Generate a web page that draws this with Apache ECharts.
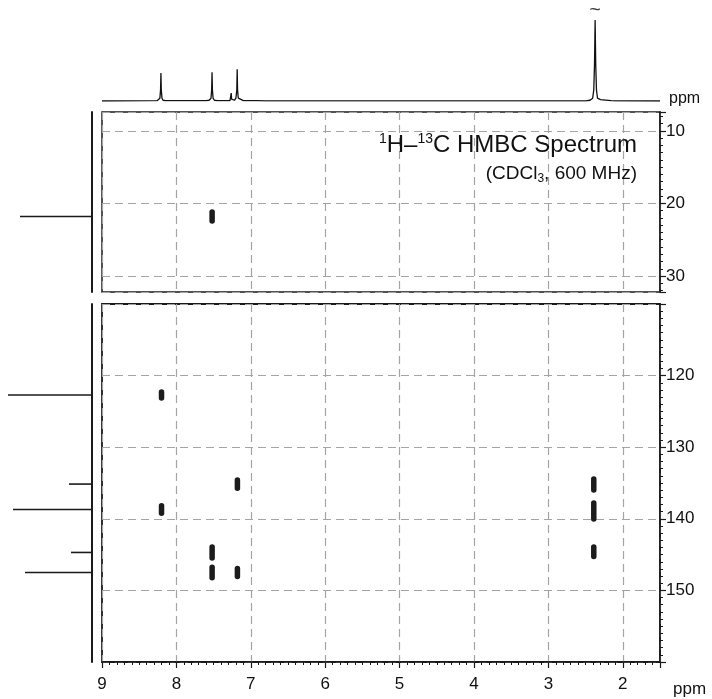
<!DOCTYPE html>
<html>
<head>
<meta charset="utf-8">
<script src="https://cdn.jsdelivr.net/npm/echarts@6/dist/echarts.min.js"></script>
<style>html,body{margin:0;padding:0;background:#fff;}#c{width:712px;height:699px;}</style>
</head>
<body>
<div id="c"></div>
<script>
// ---- data ----
// 1D 1H projection (ppm, intensity)
const spectrum = [
  [9.0,0],[8.60,0.2],[8.26,0.3],[8.235,0.8],[8.222,3],[8.213,12],[8.208,30],[8.203,12],[8.194,3],[8.18,0.8],[8.15,0.3],
  [7.60,0.3],[7.56,0.8],[7.535,3],[7.526,12],[7.521,31],[7.516,12],[7.507,3],[7.49,0.8],[7.45,0.4],
  [7.28,0.5],[7.268,2],[7.263,8.5],[7.258,2],[7.25,0.6],[7.22,0.8],[7.20,3],[7.188,12],[7.183,34],[7.178,12],[7.168,3],[7.15,1],[7.10,0.4],
  [6.92,0.3],[6.905,1.5],[6.895,0.3],[6.8,0.2],
  [2.50,0.2],[2.44,0.8],[2.405,3],[2.39,12],[2.38,40],[2.372,87],[2.364,40],[2.354,12],[2.34,3],[2.32,1.2],[2.30,1.5],[2.29,0.8],
  [2.16,0.4],[2.15,1.8],[2.14,0.4],[2.1,0.2],[1.5,0]
];
const truncMark = [[2.372, 97]];
// 2D cross peaks: 1H ppm, 13C ppm, vertical extent (ppm)
const peakH    = [7.52, 8.20, 8.20, 7.18, 7.52, 7.52, 7.18, 2.39, 2.39, 2.39];
const peakC    = [21.8, 122.7, 138.7, 135.15, 144.7, 147.5, 147.5, 135.2, 138.9, 144.6];
const peakSpan = [2.0, 1.6, 1.8, 1.9, 2.3, 2.2, 1.9, 2.3, 3.0, 2.1];
// 13C projection lines: ppm, intensity
const projC = [21.8, 122.7, 135.15, 138.7, 144.7, 147.5];
const projI = [72, 84, 23, 79, 21, 67];
// axes
const xRange = [1.5, 9];
const topCRange = [7.4, 32.2];
const botCRange = [110, 160];

// ---- build ----
const topPeaks = [], botPeaks = [];
peakH.forEach((h, i) => {
  const d = [h, peakC[i], peakSpan[i]];
  (peakC[i] < 60 ? topPeaks : botPeaks).push(d);
});
const topProj = [], botProj = [];
projC.forEach((c, i) => {
  (c < 60 ? topProj : botProj).push([projI[i], c]);
});

const FONT = 'Liberation Sans';
const dash = {color: '#a4a4a4', width: 1.2, type: [8, 5]};
const G = {left: 102, right: 52};

const peakRender = function (params, api) {
  const c = api.coord([api.value(0), api.value(1)]);
  const h = api.size([0, api.value(2)])[1];
  const w = 5.5;
  return {type: 'rect', shape: {x: c[0] - w / 2, y: c[1] - h / 2, width: w, height: h, r: w / 2},
          style: {fill: '#1c1c1c'}};
};
const projRender = function (params, api) {
  const p0 = api.coord([0, api.value(1)]);
  const p1 = api.coord([api.value(0), api.value(1)]);
  return {type: 'line', shape: {x1: p0[0], y1: p0[1], x2: p1[0], y2: p1[1]},
          style: {stroke: '#1a1a1a', lineWidth: 1.6}};
};
const labelFmt = v => (Math.abs(v - Math.round(v)) < 1e-6 && Math.round(v) % 10 === 0) ? String(Math.round(v)) : '';
const xFmt = v => (Math.abs(v - Math.round(v)) < 1e-6) ? String(Math.round(v)) : '';

const option = {
  backgroundColor: '#fff',
  animation: false,
  textStyle: {fontFamily: FONT},
  title: [
    {text: '{sup|1}{b|H–}{sup|13}{b|C HMBC Spectrum}', right: 70, top: 127,
     textStyle: {fontWeight: 'normal', rich: {
       b: {fontSize: 24, fontWeight: 'normal', fontFamily: FONT, color: '#111', lineHeight: 27},
       sup: {fontSize: 14, fontWeight: 'normal', fontFamily: FONT, color: '#111', lineHeight: 15, verticalAlign: 'top'}
     }}},
    {text: '{b|(CDCl}{sub|3}{b|, 600 MHz)}', right: 70, top: 158,
     textStyle: {fontWeight: 'normal', rich: {
       b: {fontSize: 19, fontWeight: 'normal', fontFamily: FONT, color: '#111', lineHeight: 22},
       sub: {fontSize: 12, fontWeight: 'normal', fontFamily: FONT, color: '#111', lineHeight: 12, verticalAlign: 'bottom'}
     }}},
    {text: 'ppm', left: 664, top: 86, textStyle: {fontSize: 16, fontWeight: 'normal', fontFamily: FONT, color: '#111'}},
    {text: 'ppm', left: 668, top: 676, textStyle: {fontSize: 17, fontWeight: 'normal', fontFamily: FONT, color: '#111'}}
  ],
  grid: [
    {left: G.left, right: G.right, top: 8, height: 93},
    {left: G.left, right: G.right, top: 112, height: 180, show: true, borderColor: '#1a1a1a', borderWidth: 1.5},
    {left: G.left, right: G.right, top: 304, height: 358, show: true, borderColor: '#1a1a1a', borderWidth: 1.8},
    {left: 0, width: 92, top: 112, height: 180},
    {left: 0, width: 92, top: 304, height: 358}
  ],
  xAxis: [
    {gridIndex: 0, type: 'value', min: xRange[0], max: xRange[1], inverse: true, show: false},
    {gridIndex: 1, type: 'value', min: xRange[0], max: xRange[1], inverse: true, minInterval: 1, maxInterval: 1,
     axisLine: {show: false}, axisTick: {show: false}, axisLabel: {show: false}, splitLine: {show: true, lineStyle: dash}},
    {gridIndex: 2, type: 'value', min: xRange[0], max: xRange[1], inverse: true, minInterval: 1, maxInterval: 1,
     axisLine: {show: true, onZero: false, lineStyle: {color: '#1a1a1a', width: 1.5}},
     axisTick: {show: true, length: 6, lineStyle: {color: '#1a1a1a', width: 1.2}},
     minorTick: {show: true, splitNumber: 10, length: 3, lineStyle: {color: '#1a1a1a', width: 1}},
     axisLabel: {show: true, formatter: xFmt, fontSize: 17, color: '#111', margin: 14, fontFamily: FONT},
     splitLine: {show: true, lineStyle: dash}},
    {gridIndex: 3, type: 'value', min: 0, max: 92, inverse: true, show: false},
    {gridIndex: 4, type: 'value', min: 0, max: 92, inverse: true, show: false}
  ],
  yAxis: [
    {gridIndex: 0, type: 'value', min: 0, max: 100, show: false},
    {gridIndex: 1, type: 'value', min: topCRange[0], max: topCRange[1], inverse: true, position: 'right',
     minInterval: 10, maxInterval: 10,
     axisLine: {show: true, lineStyle: {color: '#1a1a1a', width: 1.5}},
     axisTick: {show: true, length: 6, lineStyle: {color: '#1a1a1a', width: 1.2}},
     minorTick: {show: true, splitNumber: 10, length: 3, lineStyle: {color: '#1a1a1a', width: 1}},
     axisLabel: {formatter: labelFmt, fontSize: 17, color: '#111', margin: 6, fontFamily: FONT},
     splitLine: {show: true, lineStyle: dash}},
    {gridIndex: 2, type: 'value', min: botCRange[0], max: botCRange[1], interval: 10, inverse: true, position: 'right',
     axisLine: {show: true, lineStyle: {color: '#1a1a1a', width: 1.5}},
     axisTick: {show: true, length: 6, lineStyle: {color: '#1a1a1a', width: 1.2}},
     minorTick: {show: true, splitNumber: 10, length: 3, lineStyle: {color: '#1a1a1a', width: 1}},
     axisLabel: {formatter: labelFmt, fontSize: 17, color: '#111', margin: 6, fontFamily: FONT, showMinLabel: false, showMaxLabel: false},
     splitLine: {show: true, lineStyle: dash}},
    {gridIndex: 3, type: 'value', min: topCRange[0], max: topCRange[1], inverse: true, position: 'right',
     axisLine: {show: true, lineStyle: {color: '#1a1a1a', width: 2}}, axisTick: {show: false}, axisLabel: {show: false}, splitLine: {show: false}},
    {gridIndex: 4, type: 'value', min: botCRange[0], max: botCRange[1], inverse: true, position: 'right',
     axisLine: {show: true, lineStyle: {color: '#1a1a1a', width: 2}}, axisTick: {show: false}, axisLabel: {show: false}, splitLine: {show: false}}
  ],
  series: [
    {type: 'line', xAxisIndex: 0, yAxisIndex: 0, data: spectrum, showSymbol: false, smooth: false,
     lineStyle: {color: '#111', width: 1.3}},
    {type: 'scatter', xAxisIndex: 0, yAxisIndex: 0, data: truncMark, symbolSize: 0,
     label: {show: true, formatter: '~', position: 'inside', fontSize: 20, color: '#111', fontFamily: FONT}},
    {type: 'custom', xAxisIndex: 1, yAxisIndex: 1, data: topPeaks, renderItem: peakRender, clip: true},
    {type: 'custom', xAxisIndex: 2, yAxisIndex: 2, data: botPeaks, renderItem: peakRender, clip: true},
    {type: 'custom', xAxisIndex: 3, yAxisIndex: 3, data: topProj, renderItem: projRender},
    {type: 'custom', xAxisIndex: 4, yAxisIndex: 4, data: botProj, renderItem: projRender}
  ]
};
const chart = echarts.init(document.getElementById('c'), null, {renderer: 'canvas'});
chart.setOption(option);
</script>
</body>
</html>
